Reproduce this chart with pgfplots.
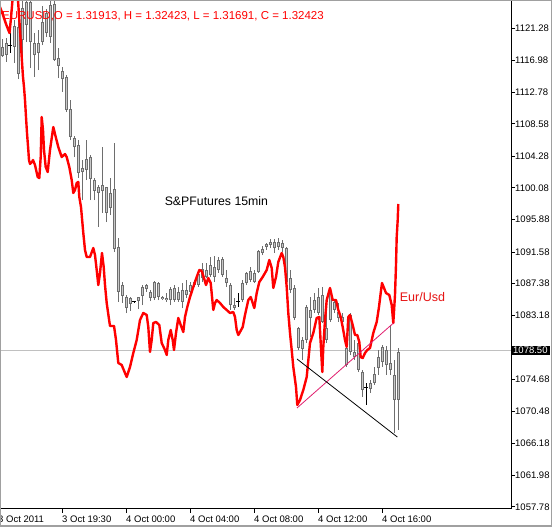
\documentclass[border=0pt]{standalone}
\usepackage{pgfplots}
\pgfplotsset{compat=1.18}
\usepackage{pgfplotstable}
\usepackage{fontspec}
\setmainfont{Liberation Sans}

\definecolor{wick}{RGB}{110,110,110}
\definecolor{bodyfill}{RGB}{200,200,200}
\definecolor{pricegray}{RGB}{192,192,192}
\definecolor{framegray}{RGB}{160,160,160}
\definecolor{trendpink}{RGB}{225,30,110}
\definecolor{eurtext}{RGB}{230,20,20}

% S&P futures 15 min candles: body bottom (o), high, low, body top (c)
\pgfplotstableread{
x o h l c
0 1117.57 1119.83 1117.44 1118.77
1 1117.70 1119.96 1116.78 1119.30
3 1118.77 1122.35 1116.64 1121.55
4 1115.18 1124.87 1114.52 1121.42
5 1119.69 1124.87 1114.65 1123.94
6 1121.68 1124.87 1119.43 1124.73
7 1119.43 1124.87 1115.98 1124.73
8 1117.70 1120.62 1114.79 1119.30
9 1117.97 1121.02 1115.71 1119.30
10 1119.43 1124.20 1119.03 1122.08
11 1120.62 1123.81 1120.09 1123.28
12 1120.09 1124.87 1119.30 1124.34
13 1117.04 1124.87 1116.91 1124.47
14 1116.25 1118.63 1114.65 1117.31
15 1114.52 1116.11 1112.80 1115.58
16 1110.41 1115.05 1110.14 1114.79
17 1106.83 1111.73 1106.43 1110.54
18 1105.50 1106.96 1104.17 1106.69
19 1102.05 1106.43 1101.39 1105.77
20 1102.18 1103.78 1098.47 1102.71
21 1102.45 1106.43 1101.12 1103.91
22 1101.26 1104.44 1098.47 1104.17
23 1099.66 1101.39 1098.47 1101.12
24 1099.40 1100.46 1094.89 1100.19
25 1099.66 1105.50 1096.75 1100.46
26 1096.75 1100.19 1095.55 1100.19
27 1097.41 1101.39 1096.48 1099.40
28 1091.97 1106.03 1091.57 1099.93
29 1086.27 1093.43 1084.94 1092.24
30 1085.74 1087.59 1084.81 1087.19
31 1084.14 1085.87 1083.48 1085.60
32 1084.67 1085.60 1083.75 1085.47
34 1085.07 1085.60 1084.01 1085.60
35 1085.74 1087.19 1084.54 1086.93
36 1086.66 1087.33 1086.27 1087.19
37 1085.47 1086.53 1085.07 1086.27
38 1085.47 1087.73 1085.20 1087.59
39 1085.60 1087.59 1085.20 1087.46
40 1085.34 1085.74 1085.20 1085.60
41 1085.20 1086.13 1084.94 1085.47
42 1085.20 1086.93 1084.54 1086.66
43 1085.20 1087.19 1084.94 1086.80
44 1085.20 1086.93 1084.94 1086.27
45 1084.94 1087.46 1084.14 1086.53
46 1085.87 1087.86 1085.47 1086.53
47 1086.27 1087.59 1085.87 1087.19
48 1087.19 1087.86 1086.93 1087.59
49 1087.19 1088.92 1086.93 1088.65
50 1088.12 1090.11 1087.59 1089.32
51 1088.26 1090.11 1088.12 1089.18
52 1088.52 1090.91 1088.26 1089.85
53 1088.26 1091.04 1087.59 1089.58
54 1089.18 1090.91 1088.79 1090.51
55 1088.52 1090.91 1088.26 1090.64
56 1087.46 1089.18 1086.93 1088.12
57 1084.54 1087.46 1083.88 1087.19
58 1084.14 1085.47 1083.88 1084.54
60 1085.20 1087.86 1084.94 1087.46
61 1087.46 1088.92 1087.19 1088.79
62 1087.86 1089.58 1087.59 1089.05
63 1087.59 1089.18 1087.46 1088.79
64 1088.92 1091.84 1088.79 1091.70
65 1091.44 1092.37 1091.17 1091.97
66 1092.24 1092.77 1091.84 1092.63
67 1092.50 1093.30 1092.10 1092.90
68 1092.10 1093.30 1091.44 1092.90
69 1092.24 1093.43 1091.84 1092.90
70 1092.10 1093.16 1091.57 1092.77
71 1087.59 1092.24 1086.93 1092.10
72 1086.53 1089.18 1086.13 1088.12
73 1082.82 1087.19 1082.55 1086.80
74 1078.84 1081.62 1078.57 1081.49
75 1078.71 1080.30 1077.25 1079.90
76 1079.90 1084.54 1079.50 1084.28
77 1082.82 1085.60 1080.30 1083.88
78 1083.88 1086.13 1083.48 1085.20
79 1083.48 1086.80 1083.22 1085.60
80 1082.29 1086.93 1082.15 1085.87
81 1079.90 1083.88 1079.50 1081.49
82 1082.55 1086.53 1082.29 1086.13
83 1083.88 1085.20 1083.48 1084.94
84 1082.82 1084.81 1082.29 1083.61
85 1082.29 1083.48 1081.49 1082.95
86 1076.58 1079.90 1076.32 1078.84
87 1078.31 1083.48 1077.91 1083.22
88 1077.64 1079.90 1077.25 1078.31
89 1075.92 1079.90 1075.65 1079.50
90 1073.27 1075.92 1072.34 1075.65
92 1073.40 1074.59 1072.87 1074.20
93 1074.20 1076.32 1073.93 1075.39
94 1076.18 1078.57 1075.26 1077.64
95 1076.98 1079.24 1076.32 1078.97
96 1076.58 1079.10 1075.26 1078.57
97 1075.92 1081.89 1075.26 1076.85
98 1071.94 1077.25 1067.56 1075.26
99 1071.94 1078.84 1067.96 1078.31
}\candles

% doji bars (drawn black)
\pgfplotstableread{
x y h l
2 1119.03 1120.62 1117.97
33 1084.94 1085.07 1084.81
59 1084.94 1086.13 1084.28
91 1073.66 1074.20 1071.28
}\dojis

% Eur/Usd overlay, in the scale of the price axis
\pgfplotstableread{
n p
-0.5 1124.07
0.25 1123.01
1 1121.82
1.875 1120.62
2.25 1122.61
2.625 1125.00
3.25 1127.65
4 1125.00
4.5 1121.02
5 1116.78
5.25 1114.79
5.5 1113.46
5.75 1111.73
6 1109.48
6.25 1107.36
6.575 1105.10
6.75 1103.78
7 1103.25
7.5 1103.51
7.75 1103.78
8.25 1103.11
8.925 1101.52
9.325 1101.39
9.675 1104.17
9.925 1109.48
10.25 1107.76
10.5 1105.10
10.925 1102.85
11.425 1102.18
12 1105.10
12.825 1108.15
13.5 1106.69
14.075 1105.50
14.925 1104.17
15.75 1104.57
16.175 1104.17
16.825 1102.85
17.425 1101.12
17.825 1099.40
18.25 1099.80
18.675 1100.73
19.075 1100.86
19.325 1098.87
19.75 1097.54
20.325 1094.09
20.75 1091.84
21.175 1090.91
22 1090.91
22.825 1092.10
23.25 1091.17
23.675 1089.18
24.075 1087.19
24.5 1088.79
25 1091.44
25.425 1089.58
25.75 1087.19
26.175 1084.81
26.675 1082.95
27 1081.76
28 1081.76
28.5 1079.90
29.075 1076.85
29.925 1076.58
30.75 1075.52
31.175 1074.99
32 1076.32
32.825 1078.17
33.675 1079.90
34.5 1082.55
35.325 1083.48
36.175 1083.22
36.575 1081.62
37 1078.31
37.425 1079.90
37.825 1082.15
38.5 1082.29
39.325 1081.89
39.925 1079.50
40.75 1078.57
41.175 1077.91
41.575 1079.90
42.175 1081.23
42.675 1079.90
43 1078.57
43.5 1080.83
44.075 1082.82
44.675 1081.89
45.325 1080.96
45.75 1082.95
46.325 1084.28
47 1085.60
47.825 1086.93
48.675 1088.26
49.325 1089.18
49.925 1089.05
50.5 1088.12
51 1087.19
51.575 1088.12
52.175 1087.46
52.825 1083.88
53.25 1084.81
53.675 1085.20
54.5 1084.81
55.325 1084.28
56.175 1083.88
57 1083.48
57.825 1083.61
58.25 1082.95
58.675 1081.23
59.075 1080.56
59.5 1080.96
60.175 1081.62
60.75 1083.22
61.575 1085.20
62.175 1085.60
62.675 1084.81
63.075 1084.14
63.675 1086.13
64.325 1087.59
65.175 1088.26
66.175 1089.18
66.825 1090.51
67.425 1089.45
67.825 1086.80
68.5 1088.26
69.075 1090.25
69.925 1091.44
70.325 1090.91
70.75 1089.58
71.175 1086.93
71.575 1083.48
72 1080.83
72.425 1078.57
72.825 1076.32
73.5 1073.66
73.825 1071.28
74.5 1071.94
75.325 1073.27
76.175 1074.99
77 1079.50
77.825 1080.83
78.675 1082.82
79.325 1082.95
79.675 1079.50
80.075 1075.65
80.325 1078.97
80.75 1082.55
81.175 1085.20
82 1086.80
82.675 1085.20
83.5 1085.20
84.075 1083.88
84.675 1082.95
85.175 1081.62
85.75 1079.90
86.175 1078.97
86.575 1082.95
87 1083.22
87.675 1081.89
88.25 1080.56
88.825 1080.56
89.325 1079.63
89.675 1077.64
90.175 1077.51
90.75 1078.17
91.325 1078.57
92 1078.84
92.825 1080.83
93.675 1082.29
94.25 1084.28
94.675 1086.13
95 1087.46
95.5 1086.80
96 1086.13
96.825 1085.87
97.425 1084.54
97.825 1082.15
98.25 1085.87
98.5 1089.85
98.675 1093.56
98.925 1095.82
99.075 1097.94
}\eurusd

\begin{document}
\begin{tikzpicture}
\path[use as bounding box, fill=white] (-1pt,-18pt) rectangle (551pt,509pt);
\begin{axis}[
    at={(0pt,0pt)}, anchor=south west,
    scale only axis,
    width=510pt, height=508pt,
    xmin=-0.25, xmax=127.25,
    ymin=1057.48, ymax=1124.87,
    axis x line*=bottom, axis y line*=right,
    axis line style={black, line width=1pt},
    tick align=outside,
    major tick length=4pt,
    tick style={black, line width=0.8pt},
    xtick={15,31,47,63,79,95},
    xticklabels={3 Oct 19:30, 4 Oct 00:00, 4 Oct 04:00, 4 Oct 08:00, 4 Oct 12:00, 4 Oct 16:00},
    ytick={1057.78,1061.98,1066.18,1070.48,1074.68,1083.18,1087.38,1091.58,1095.88,1100.08,1104.28,1108.58,1112.78,1116.98,1121.28},
    yticklabels={1057.78,1061.98,1066.18,1070.48,1074.68,1083.18,1087.38,1091.58,1095.88,1100.08,1104.28,1108.58,1112.78,1116.98,1121.28},
    tick label style={font=\fontsize{9.5}{11}\selectfont},
    xticklabel style={anchor=north west, inner sep=0pt, yshift=-3pt},
    yticklabel style={anchor=west, inner sep=0pt, xshift=0pt},
    extra y ticks={1078.50},
    extra y tick labels={1078.50},
    extra y tick style={yticklabel style={fill=black, text=white, inner xsep=2pt, inner ysep=1pt, xshift=-4pt}},
    extra x ticks={-0.25},
    extra x tick labels={3 Oct 2011},
    extra x tick style={tick style={draw=none}, xticklabel style={xshift=-3pt}},
]

% current price line
\addplot[pricegray, line width=1pt, forget plot] coordinates {(-0.25,1078.50) (127.25,1078.50)};

% wicks
\addplot[draw=none, mark=none, forget plot,
    error bars/.cd, y dir=plus, y explicit, error mark=none,
    error bar style={draw=wick, line width=1pt}]
    table[x=x, y=l, y error plus expr=\thisrow{h}-\thisrow{l}] {\candles};
% bodies: outline then fill
\addplot[draw=none, mark=none, forget plot,
    error bars/.cd, y dir=plus, y explicit, error mark=none,
    error bar style={draw=wick, line width=3pt}]
    table[x=x, y=o, y error plus expr=\thisrow{c}-\thisrow{o}] {\candles};
\addplot[draw=none, mark=none, forget plot,
    error bars/.cd, y dir=plus, y explicit, error mark=none,
    error bar style={draw=bodyfill, line width=1pt, shorten <=0.8pt, shorten >=0.8pt}]
    table[x=x, y=o, y error plus expr=\thisrow{c}-\thisrow{o}] {\candles};

% dojis
\addplot[only marks, mark=-, mark size=1.6pt, mark options={black, line width=1pt}, forget plot,
    error bars/.cd, y dir=both, y explicit, error mark=none,
    error bar style={draw=black, line width=1pt}]
    table[x=x, y=y, y error plus expr=\thisrow{h}-\thisrow{y}, y error minus expr=\thisrow{y}-\thisrow{l}] {\dojis};

% Eur/Usd
\addplot[red, line width=2.4pt, line join=round, mark=none] table[x=n, y=p] {\eurusd};

% trend lines
\addplot[trendpink, line width=0.8pt] coordinates {(73.75,1070.88) (97.875,1082.15)};
\addplot[black, line width=0.8pt] coordinates {(73.75,1077.38) (98.825,1067.03)};

\node[font=\fontsize{12.3}{14}\selectfont] at (axis cs:53.6,1098.34) {S\&PFutures 15min};
\node[font=\fontsize{12.5}{14}\selectfont, text=eurtext] at (axis cs:105.1,1085.6) {Eur/Usd};
\end{axis}
\node[anchor=west, inner sep=0pt, text=red, font=\fontsize{11.5}{13}\selectfont] at (1pt,493pt) {EURUSD,O = 1.31913, H = 1.32423, L = 1.31691, C = 1.32423};
\draw[framegray, line width=1.5pt] (-0.25pt,-17.25pt) rectangle (550.25pt,508.25pt);
\end{tikzpicture}
\end{document}
